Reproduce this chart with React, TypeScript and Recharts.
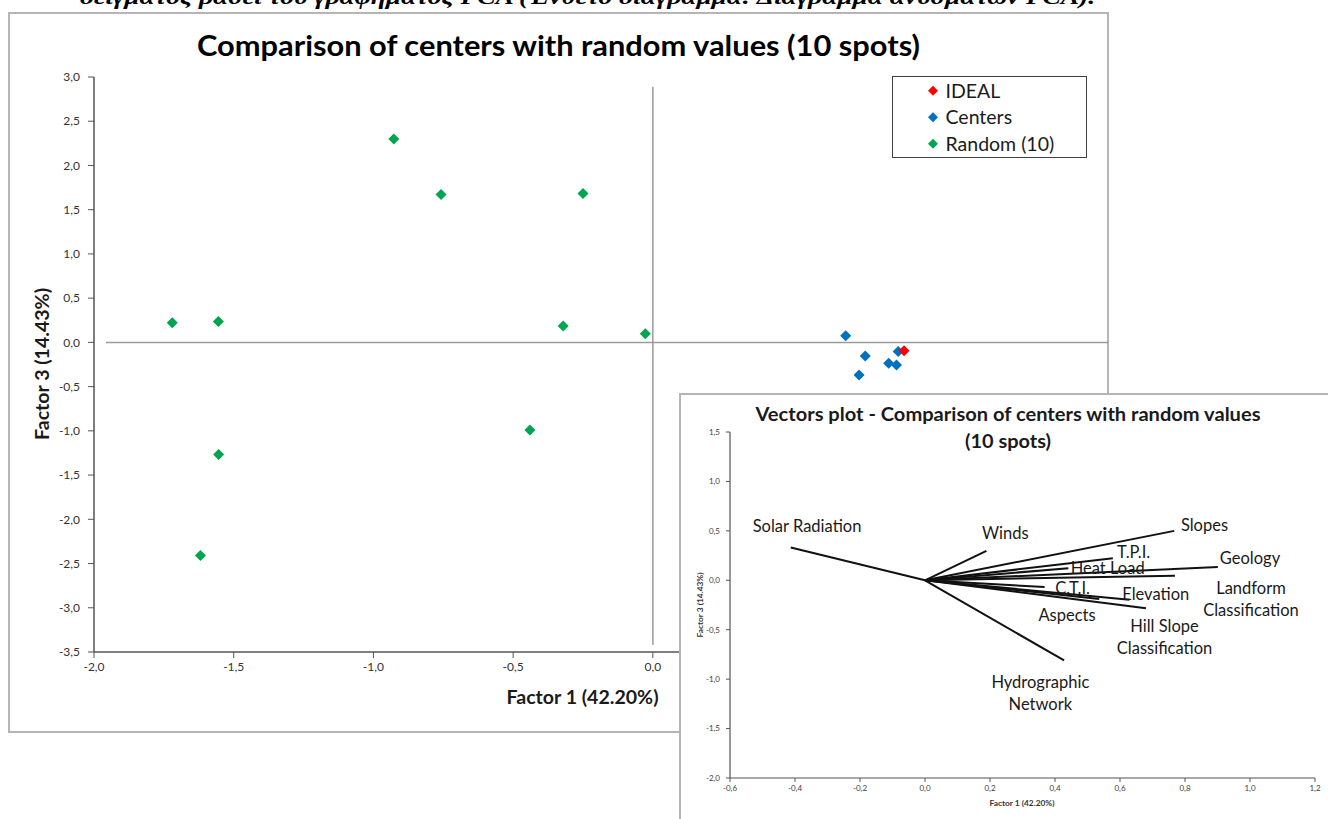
import React from 'react';
import { ScatterChart, Scatter, XAxis, YAxis, ReferenceLine } from 'recharts';

const FONT = "Lato, 'Liberation Sans', sans-serif";

// ---- Main chart data ----
const randomX = [-1.72, -1.555, -0.927, -0.758, -0.25, -0.321, -0.027, -0.44, -1.554, -1.619];
const randomY = [0.223, 0.237, 2.3, 1.672, 1.684, 0.185, 0.098, -0.99, -1.266, -2.41];
const centersX = [0.69, 0.76, 0.738, 0.844, 0.872, 0.878];
const centersY = [0.076, -0.154, -0.369, -0.237, -0.256, -0.102];
const idealX = [0.899];
const idealY = [-0.094];

const mainXTicks = [-2, -1.5, -1, -0.5, 0, 0.5, 1, 1.5];
const mainYTicks = [3, 2.5, 2, 1.5, 1, 0.5, 0, -0.5, -1, -1.5, -2, -2.5, -3, -3.5];

const legendNames = ['IDEAL', 'Centers', 'Random (10)'];
const legendColors = ['#ff0000', '#0070c0', '#00a550'];

// ---- Inset (vectors) data ----
const vectorNames = ['Solar Radiation', 'Winds', 'Slopes', 'T.P.I.', 'Heat Load', 'Geology', 'Landform Classification', 'C.T.I.', 'Aspects', 'Elevation', 'Hill Slope Classification', 'Hydrographic Network'];
const vectorX = [-0.413, 0.189, 0.767, 0.578, 0.441, 0.901, 0.769, 0.368, 0.536, 0.629, 0.68, 0.428];
const vectorY = [0.331, 0.297, 0.5, 0.223, 0.122, 0.135, 0.047, -0.068, -0.189, -0.196, -0.284, -0.811];
const labelLines = [['Solar Radiation'], ['Winds'], ['Slopes'], ['T.P.I.'], ['Heat Load'], ['Geology'], ['Landform', 'Classification'], ['C.T.I.'], ['Aspects'], ['Elevation'], ['Hill Slope', 'Classification'], ['Hydrographic', 'Network']];
const labelX = [-0.363, 0.247, 0.86, 0.642, 0.562, 1.0, 1.003, 0.454, 0.437, 0.71, 0.737, 0.355];
const labelY = [0.547, 0.473, 0.561, 0.285, 0.12, 0.226, -0.188, -0.078, -0.355, -0.135, -0.573, -1.14];

const insetXTicks = [-0.6, -0.4, -0.2, 0, 0.2, 0.4, 0.6, 0.8, 1.0, 1.2];
const insetYTicks = [1.5, 1.0, 0.5, 0, -0.5, -1.0, -1.5, -2.0];

const fmt = (v: number) => (Math.abs(v) < 1e-9 ? 0 : v).toFixed(1).replace('.', ',');
const toPoints = (xs: number[], ys: number[]) => xs.map((x, i) => ({ x, y: ys[i] }));

const randomData = toPoints(randomX, randomY);
const centersData = toPoints(centersX, centersY);
const idealData = toPoints(idealX, idealY);
const labelData = labelX.map((x, i) => ({ x, y: labelY[i], lines: labelLines[i] }));

const diamondPath = (cx: number, cy: number, r: number) =>
  `M${cx},${cy - r}L${cx + r},${cy}L${cx},${cy + r}L${cx - r},${cy}Z`;

const makeDiamond = (color: string) => (props: any) => {
  const { cx, cy } = props;
  if (cx == null || cy == null) return <g />;
  return <path d={diamondPath(cx, cy, 5.5)} fill={color} />;
};

const VectorLabel = (props: any) => {
  const { cx, cy, payload } = props;
  if (cx == null || cy == null) return <g />;
  const lines: string[] = payload.lines;
  const lh = 21.7;
  const y0 = cy - ((lines.length - 1) * lh) / 2;
  return (
    <text textAnchor="middle" fontFamily={FONT} fontSize={16.5} fill="#1a1a1a">
      {lines.map((l, i) => (
        <tspan key={i} x={cx} y={y0 + i * lh} dy="0.36em">{l}</tspan>
      ))}
    </text>
  );
};

export default function App() {
  return (
    <div style={{ position: 'absolute', left: 0, top: 0, width: 1328, height: 819, background: '#fff', overflow: 'hidden' }}>
      {/* Main chart */}
      <div style={{ position: 'absolute', left: 0, top: 0 }}>
        <ScatterChart width={1328} height={819} margin={{ top: 77, right: 256, bottom: 137, left: 54 }}>
          <rect x={9} y={13} width={1099} height={719} fill="none" stroke="#b5b5b5" strokeWidth={2} />
          <text x={80} y={3.5} fontFamily="'Liberation Serif', 'DejaVu Serif', serif" fontStyle="italic" fontWeight="bold" fontSize={21} fill="#000" textLength={1015} lengthAdjust="spacingAndGlyphs">
            δείγματος βάσει του γραφήματος PCA (Ένθετο διάγραμμα: Διάγραμμα ανυσμάτων PCA).
          </text>
          <text x={558.5} y={56} textAnchor="middle" fontFamily={FONT} fontSize={28} fontWeight="bold" fill="#000" textLength={723} lengthAdjust="spacingAndGlyphs">
            Comparison of centers with random values (10 spots)
          </text>
          <text x={658.5} y={704} textAnchor="end" fontFamily={FONT} fontSize={19} fontWeight="bold" fill="#1a1a1a" textLength={152} lengthAdjust="spacingAndGlyphs">
            Factor 1 (42.20%)
          </text>
          <text x={42} y={364} transform="rotate(-90 42 364)" textAnchor="middle" dy="0.35em" fontFamily={FONT} fontSize={19} fontWeight="bold" fill="#1a1a1a" textLength={152} lengthAdjust="spacingAndGlyphs">
            Factor 3 (14.43%)
          </text>
          <XAxis
            type="number"
            dataKey="x"
            domain={[-2, 1.5]}
            ticks={mainXTicks}
            interval={0}
            tickFormatter={fmt}
            height={30}
            tickSize={6}
            tickMargin={4}
            axisLine={{ stroke: '#555', strokeWidth: 1.5 }}
            tickLine={{ stroke: '#555' }}
            tick={{ fill: '#333', fontSize: 12, fontFamily: FONT }}
            allowDataOverflow
          />
          <YAxis
            type="number"
            dataKey="y"
            domain={[-3.5, 3]}
            ticks={mainYTicks}
            interval={0}
            tickFormatter={fmt}
            width={40}
            tickSize={6}
            tickMargin={8}
            axisLine={{ stroke: '#555', strokeWidth: 1.5 }}
            tickLine={{ stroke: '#555' }}
            tick={{ fill: '#333', fontSize: 12, fontFamily: FONT }}
            allowDataOverflow
          />
          <ReferenceLine segment={[{ x: -1.957, y: 0 }, { x: 1.63, y: 0 }]} stroke="#9a9a9a" strokeWidth={1.5} ifOverflow="visible" />
          <ReferenceLine segment={[{ x: 0, y: 2.89 }, { x: 0, y: -3.42 }]} stroke="#9a9a9a" strokeWidth={1.5} ifOverflow="visible" />
          <Scatter name="Random (10)" data={randomData} fill="#00a550" shape={makeDiamond('#00a550')} isAnimationActive={false} />
          <Scatter name="Centers" data={centersData} fill="#0070c0" shape={makeDiamond('#0070c0')} isAnimationActive={false} />
          <Scatter name="IDEAL" data={idealData} fill="#ff0000" shape={makeDiamond('#ff0000')} isAnimationActive={false} />
          <g>
            <rect x={892.5} y={76.5} width={194} height={81} fill="#fff" stroke="#404040" strokeWidth={1} />
            {legendNames.map((n, i) => (
              <g key={n}>
                <path d={diamondPath(933, 90.7 + i * 26.5, 5)} fill={legendColors[i]} />
                <text x={945.5} y={90.7 + i * 26.5} dy="0.36em" fontFamily={FONT} fontSize={19.5} fill="#1a1a1a">{n}</text>
              </g>
            ))}
          </g>
        </ScatterChart>
      </div>

      {/* Inset: vectors plot */}
      <div style={{ position: 'absolute', left: 679, top: 393, width: 649, height: 426, background: '#fff' }}>
        <ScatterChart width={649} height={426} margin={{ top: 39, right: 13, bottom: 16, left: 21 }}>
          <line x1={0} y1={1} x2={649} y2={1} stroke="#b5b5b5" strokeWidth={2} />
          <line x1={1} y1={0} x2={1} y2={426} stroke="#b5b5b5" strokeWidth={2} />
          <text x={329} y={28} textAnchor="middle" fontFamily={FONT} fontSize={18} fontWeight="bold" fill="#1a1a1a" textLength={505} lengthAdjust="spacingAndGlyphs">
            Vectors plot - Comparison of centers with random values
          </text>
          <text x={329} y={55} textAnchor="middle" fontFamily={FONT} fontSize={18} fontWeight="bold" fill="#1a1a1a" textLength={86} lengthAdjust="spacingAndGlyphs">
            (10 spots)
          </text>
          <text x={343} y={413} textAnchor="middle" fontFamily={FONT} fontSize={7.5} fontWeight="bold" fill="#333" textLength={65} lengthAdjust="spacingAndGlyphs">
            Factor 1 (42.20%)
          </text>
          <text x={21} y={212} transform="rotate(-90 21 212)" textAnchor="middle" dy="0.35em" fontFamily={FONT} fontSize={7.5} fontWeight="bold" fill="#333" textLength={65} lengthAdjust="spacingAndGlyphs">
            Factor 3 (14.43%)
          </text>
          <XAxis
            type="number"
            dataKey="x"
            domain={[-0.6, 1.2]}
            ticks={insetXTicks}
            interval={0}
            tickFormatter={fmt}
            height={25}
            tickSize={4}
            tickMargin={3}
            axisLine={{ stroke: '#555', strokeWidth: 1.2 }}
            tickLine={{ stroke: '#555' }}
            tick={{ fill: '#404040', fontSize: 8, fontFamily: FONT }}
            allowDataOverflow
          />
          <YAxis
            type="number"
            dataKey="y"
            domain={[-2, 1.5]}
            ticks={insetYTicks}
            interval={0}
            tickFormatter={fmt}
            width={30}
            tickSize={4}
            tickMargin={6}
            axisLine={{ stroke: '#555', strokeWidth: 1.2 }}
            tickLine={{ stroke: '#555' }}
            tick={{ fill: '#404040', fontSize: 8, fontFamily: FONT }}
            allowDataOverflow
          />
          <Scatter name="labels" data={labelData} fill="#000" shape={VectorLabel} isAnimationActive={false} />
          {vectorNames.map((n, i) => (
            <ReferenceLine key={n} segment={[{ x: 0, y: 0 }, { x: vectorX[i], y: vectorY[i] }]} stroke="#111" strokeWidth={2} ifOverflow="visible" />
          ))}
        </ScatterChart>
      </div>
    </div>
  );
}
